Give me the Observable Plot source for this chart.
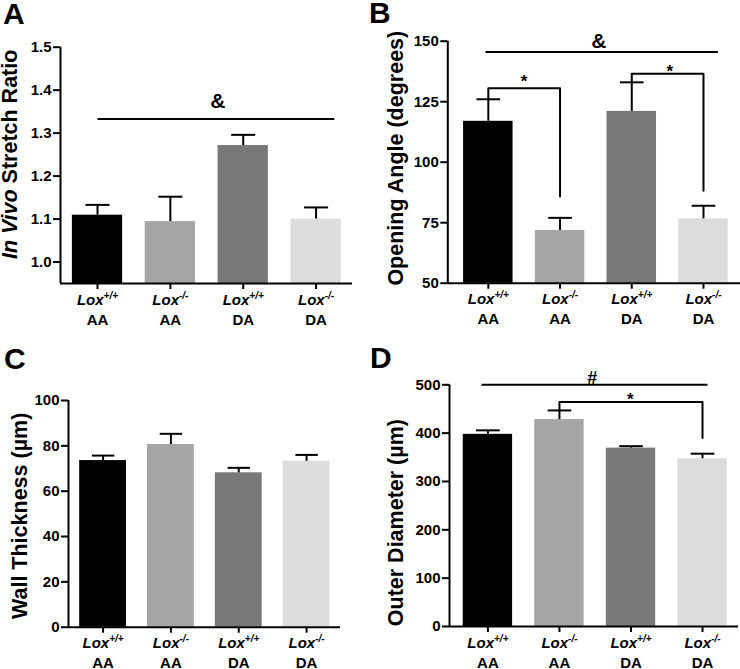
<!DOCTYPE html>
<html><head><meta charset="utf-8">
<script src="https://cdn.jsdelivr.net/npm/d3@7"></script>
<script src="https://cdn.jsdelivr.net/npm/@observablehq/plot@0.6"></script>
<style>
body{margin:0;background:#fff;}
#fig{position:relative;width:740px;height:669px;overflow:hidden;font-family:"Liberation Sans",Arial,Helvetica,sans-serif;}
.panel{position:absolute;}
.letter{position:absolute;font-weight:bold;font-size:30px;line-height:24px;color:#000;}
</style></head><body><div id="fig"></div>
<script>
// ---------- data ----------
const genotypes = ["+/+", "-/-", "+/+", "-/-"];
const groups = ["AA", "AA", "DA", "DA"];
const barColors = ["#000000", "#a5a5a5", "#787878", "#dcdcdc"];

// A: in vivo stretch ratio
const stretchMean = [1.109, 1.094, 1.271, 1.100];
const stretchErr  = [0.024, 0.058, 0.025, 0.027];
const stretchTicks = [1.0, 1.1, 1.2, 1.3, 1.4, 1.5];
const stretchSpans = [{x1: 0, x2: 3.25, y: 1.333}];
const stretchSymbols = [{x: 1.65, y: 1.373, text: "&", size: 21}];
const stretchBrackets = [];

// B: opening angle (degrees)
const angleMean = [116.9, 71.8, 121.0, 76.6];
const angleErr  = [9.1, 5.2, 12.0, 5.4];
const angleTicks = [50, 75, 100, 125, 150];
const angleSpans = [{x1: -0.04, x2: 3.2, y: 145.5}];
const angleSymbols = [
  {x: 1.54, y: 150, text: "&", size: 21},
  {x: 0.5, y: 133.3, text: "*", size: 17},
  {x: 2.53, y: 137.3, text: "*", size: 17}
];
const angleBrackets = [
  {from: 0, to: 1, top: 130.6, leftEnd: 126.0, rightEnd: 85.8},
  {from: 2, to: 3, top: 136.5, leftEnd: 133.0, rightEnd: 88.2}
];

// C: wall thickness (um)
const wallMean = [73.5, 80.6, 68.1, 73.2];
const wallErr  = [2.2, 4.7, 2.2, 2.8];
const wallTicks = [0, 20, 40, 60, 80, 100];

// D: outer diameter (um)
const diamMean = [397.5, 428.0, 369.0, 347.0];
const diamErr  = [8.3, 19.0, 4.0, 10.5];
const diamTicks = [0, 100, 200, 300, 400, 500];
const diamSpans = [{x1: -0.09, x2: 3.07, y: 500}];
const diamSymbols = [
  {x: 1.46, y: 514.5, text: "#", size: 18},
  {x: 1.99, y: 470, text: "*", size: 17}
];
const diamBrackets = [{from: 1, to: 3, top: 464.4, leftEnd: 447, rightEnd: 390}];

// ---------- drawing ----------
const barHalf = 0.345, capHalf = 0.165;
const fontFamily = '"Liberation Sans", Arial, Helvetica, sans-serif';
const fig = document.getElementById("fig");

function panel(cfg) {
  const idx = d3.range(cfg.mean.length);
  const bars = idx.map(i => ({i, mean: cfg.mean[i], top: cfg.mean[i] + cfg.err[i], base: cfg.yDomain[0], color: barColors[i]}));
  const bracketPts = [];
  (cfg.brackets || []).forEach((b, k) => {
    bracketPts.push({k, x: b.from, y: b.leftEnd}, {k, x: b.from, y: b.top}, {k, x: b.to, y: b.top}, {k, x: b.to, y: b.rightEnd});
  });
  const svg = Plot.plot({
    width: 370, height: cfg.height,
    marginLeft: cfg.margins[0], marginRight: cfg.margins[1], marginTop: cfg.margins[2], marginBottom: cfg.margins[3],
    style: {fontFamily, fontSize: "15px", fontWeight: "bold", color: "#000", background: "transparent", overflow: "visible"},
    x: {type: "linear", domain: cfg.xDomain},
    y: {domain: cfg.yDomain},
    marks: [
      Plot.rectY(bars, {x1: d => d.i - barHalf, x2: d => d.i + barHalf, y1: "base", y2: "mean", fill: "color"}),
      Plot.ruleX(bars, {x: "i", y1: "mean", y2: "top", stroke: "#000", strokeWidth: 2}),
      Plot.link(bars, {x1: d => d.i - capHalf, x2: d => d.i + capHalf, y1: "top", y2: "top", stroke: "#000", strokeWidth: 2}),
      Plot.line(bracketPts, {x: "x", y: "y", z: "k", stroke: "#000", strokeWidth: 2, curve: "linear"}),
      Plot.link(cfg.spans || [], {x1: "x1", x2: "x2", y1: "y", y2: "y", stroke: "#000", strokeWidth: 2}),
      Plot.text(cfg.symbols || [], {x: "x", y: "y", text: "text", fontSize: d => d.size, fontWeight: "bold", fontFamily}),
      Plot.ruleY([cfg.yDomain[0]], {stroke: "#000", strokeWidth: 2}),
      Plot.ruleX([cfg.xDomain[0]], {stroke: "#000", strokeWidth: 2}),
      Plot.axisY({ticks: cfg.ticks, tickSize: 7, tickPadding: 2, tickFormat: cfg.tickFormat, strokeWidth: 2, label: null, fontSize: 15, fontWeight: "bold", fontFamily}),
      Plot.axisX({ticks: idx, tickSize: 6, tickPadding: 4, tickFormat: i => String(i), strokeWidth: 2, label: null, fontSize: 15, fontWeight: "bold", fontFamily}),
      Plot.text([cfg.title], {frameAnchor: "left", textAnchor: "middle", lineAnchor: "middle", rotate: -90, dx: cfg.titleOffset[0], dy: cfg.titleOffset[1], fontSize: 21.5, fontWeight: "bold", fontFamily})
    ]
  });
  // two-line x labels with italic gene name and superscript genotype
  d3.select(svg).selectAll('g[aria-label="x-axis tick label"] text').each(function() {
    const i = +this.textContent;
    const t = d3.select(this).attr("dy", null).attr("y", null).text(null);
    const l1 = t.append("tspan").attr("x", 0).attr("dy", 11);
    l1.append("tspan").attr("font-style", "italic").text("Lox");
    l1.append("tspan").attr("font-style", "italic").attr("font-size", "10px").attr("dy", -6).text(genotypes[i]);
    t.append("tspan").attr("x", 0).attr("dy", 26).text(groups[i]);
  });
  if (cfg.italicPrefix) {
    d3.select(svg).selectAll("text").filter(function() { return this.textContent === cfg.title; }).each(function() {
      const t = d3.select(this).text(null);
      t.append("tspan").attr("font-style", "italic").text(cfg.italicPrefix);
      t.append("tspan").text(cfg.title.slice(cfg.italicPrefix.length));
    });
  }
  const wrap = document.createElement("div");
  wrap.className = "panel";
  wrap.style.left = cfg.pos[0] + "px";
  wrap.style.top = cfg.pos[1] + "px";
  wrap.appendChild(svg);
  fig.appendChild(wrap);
  const L = document.createElement("div");
  L.className = "letter";
  L.textContent = cfg.letter;
  L.style.left = cfg.letterPos[0] + "px";
  L.style.top = cfg.letterPos[1] + "px";
  fig.appendChild(L);
}

panel({letter: "A", letterPos: [3, 2], pos: [0, 0], height: 340, margins: [60, 18, 46.7, 57],
  mean: stretchMean, err: stretchErr, ticks: stretchTicks, tickFormat: d3.format(".1f"),
  xDomain: [-0.508, 3.5], yDomain: [0.95, 1.5], spans: stretchSpans, symbols: stretchSymbols, brackets: stretchBrackets,
  title: "In Vivo Stretch Ratio", italicPrefix: "In Vivo", titleOffset: [-50.4, -11]});

panel({letter: "B", letterPos: [369, 1], pos: [370, 0], height: 340, margins: [77.3, 0, 40.7, 57.3],
  mean: angleMean, err: angleErr, ticks: angleTicks, tickFormat: d3.format("d"),
  xDomain: [-0.565, 3.516], yDomain: [50, 150], spans: angleSpans, symbols: angleSymbols, brackets: angleBrackets,
  title: "Opening Angle (degrees)", titleOffset: [-51.7, -4]});

panel({letter: "C", letterPos: [4, 347], pos: [0, 340], height: 329, margins: [68, 30, 60, 42.3],
  mean: wallMean, err: wallErr, ticks: wallTicks, tickFormat: d3.format("d"),
  xDomain: [-0.51, 3.5], yDomain: [0, 100],
  title: "Wall Thickness (µm)", titleOffset: [-47.9, 2]});

panel({letter: "D", letterPos: [370, 346], pos: [370, 340], height: 329, margins: [79, 2, 44.3, 43],
  mean: diamMean, err: diamErr, ticks: diamTicks, tickFormat: d3.format("d"),
  xDomain: [-0.537, 3.503], yDomain: [0, 500], spans: diamSpans, symbols: diamSymbols, brackets: diamBrackets,
  title: "Outer Diameter (µm)", titleOffset: [-52.9, 17]});
</script>
</body></html>
